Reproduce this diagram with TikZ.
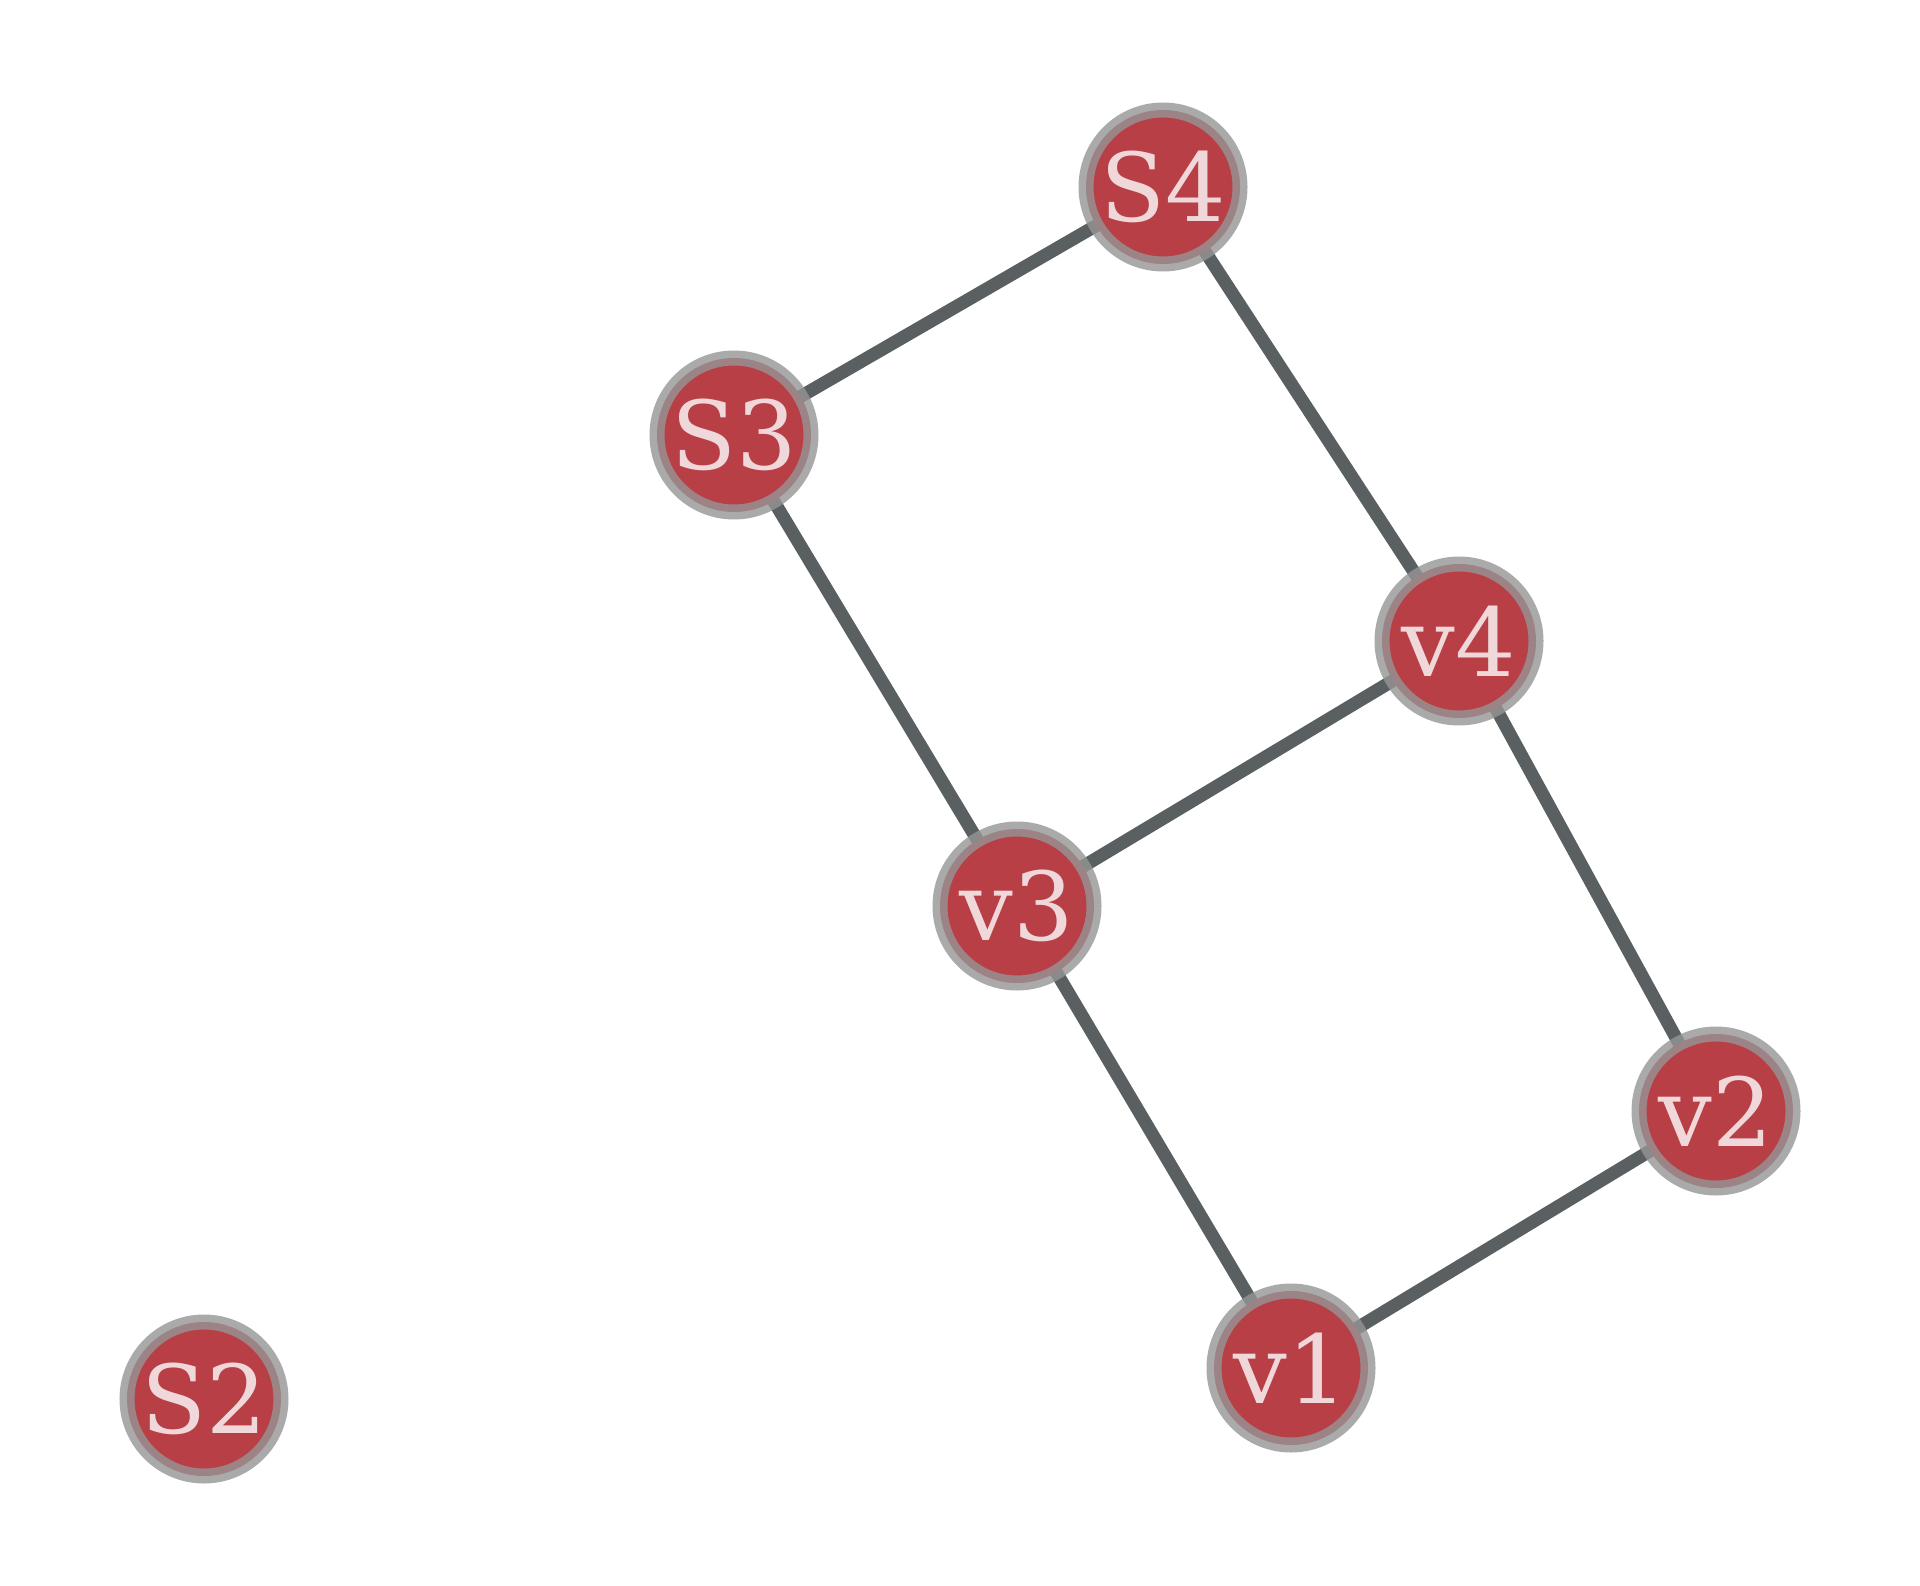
\documentclass[tikz,border=0pt]{standalone}
\usepackage{fontspec}
\setmainfont{DejaVu Serif}
\definecolor{nodefill}{RGB}{184,63,69}
\definecolor{ringgray}{RGB}{149,149,149}
\definecolor{labelpink}{RGB}{240,216,218}
\definecolor{edgegray}{RGB}{90,96,97}
\tikzset{
  vtx/.style={circle, minimum size=154pt, inner sep=0pt, fill=nodefill,
    draw=ringgray, draw opacity=0.8, line width=15pt, text=labelpink,
    font=\fontsize{95}{95}\selectfont},
  lnk/.style={draw=edgegray, line width=13pt}
}
\begin{document}
\begin{tikzpicture}[x=1pt,y=-1pt]
\useasboundingbox (0,0) rectangle (1920,1586);
\coordinate (cS4) at (1163,187);
\coordinate (cS3) at (734,435);
\coordinate (cv4) at (1459,641);
\coordinate (cv3) at (1017,906);
\coordinate (cv2) at (1716,1111);
\coordinate (cv1) at (1291,1368);
\coordinate (cS2) at (204,1399);
\draw[lnk] (cS4) -- (cS3);
\draw[lnk] (cS4) -- (cv4);
\draw[lnk] (cS3) -- (cv3);
\draw[lnk] (cv4) -- (cv3);
\draw[lnk] (cv4) -- (cv2);
\draw[lnk] (cv3) -- (cv1);
\draw[lnk] (cv2) -- (cv1);
\node[vtx] (S4) at (cS4) {S4};
\node[vtx] (S3) at (cS3) {S3};
\node[vtx] (v4) at (cv4) {v4};
\node[vtx] (v3) at (cv3) {v3};
\node[vtx] (v2) at (cv2) {v2};
\node[vtx] (v1) at (cv1) {v1};
\node[vtx] (S2) at (cS2) {S2};
\end{tikzpicture}
\end{document}
